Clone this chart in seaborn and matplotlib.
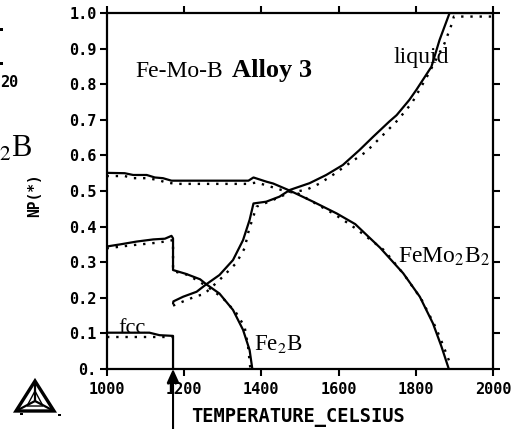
import matplotlib
matplotlib.use("Agg")
import matplotlib.pyplot as plt
import seaborn as sns
from matplotlib.lines import Line2D
from matplotlib.patches import Rectangle, Polygon

# ---------------- data ----------------
T_fcc = [1000, 1111, 1137, 1172, 1172]
NP_fcc = [0.102, 0.102, 0.095, 0.093, 0.0]

T_fe2b = [1000, 1035, 1078, 1121, 1151, 1168, 1172, 1172, 1206, 1242, 1258, 1292, 1327, 1353, 1370, 1377]
NP_fe2b = [0.344, 0.350, 0.358, 0.364, 0.366, 0.374, 0.367, 0.278, 0.267, 0.252, 0.238, 0.212, 0.166, 0.110, 0.053, 0.0]

T_liq = [1172, 1173, 1198, 1233, 1258, 1292, 1327, 1353, 1370, 1380, 1413, 1447, 1474, 1525, 1568,
         1611, 1654, 1689, 1731, 1750, 1783, 1801, 1840, 1861, 1887, 2000]
NP_liq = [0.184, 0.190, 0.203, 0.217, 0.238, 0.264, 0.306, 0.362, 0.419, 0.465, 0.470, 0.484, 0.503, 0.522, 0.545,
          0.573, 0.615, 0.652, 0.695, 0.713, 0.756, 0.784, 0.849, 0.924, 1.0, 1.0]

T_femo = [1000, 1047, 1069, 1104, 1125, 1146, 1168, 1367, 1380, 1414, 1431, 1474, 1534, 1595, 1643,
          1673, 1707, 1767, 1810, 1844, 1866, 1885]
NP_femo = [0.551, 0.550, 0.545, 0.545, 0.538, 0.536, 0.529, 0.529, 0.538, 0.526, 0.521, 0.501, 0.470, 0.437, 0.407,
           0.376, 0.341, 0.269, 0.203, 0.128, 0.063, 0.0]

# dotted (second calculation)
T_fcc_d = [1000, 1172]
NP_fcc_d = [0.091, 0.091]

T_fe2b_d = [1000, 1069, 1133, 1172, 1172, 1211, 1260, 1300, 1335, 1357, 1366, 1372]
NP_fe2b_d = [0.339, 0.348, 0.355, 0.362, 0.275, 0.264, 0.232, 0.200, 0.158, 0.119, 0.063, 0.0]

T_liq_d = [1172, 1185, 1233, 1252, 1292, 1335, 1357, 1368, 1388, 1431, 1474, 1516, 1551, 1585, 1628,
           1671, 1710, 1753, 1790, 1831, 1874, 1894, 1898, 2000]
NP_liq_d = [0.178, 0.184, 0.205, 0.210, 0.250, 0.297, 0.339, 0.390, 0.456, 0.475, 0.496, 0.503, 0.521, 0.545, 0.578,
            0.610, 0.652, 0.699, 0.748, 0.826, 0.915, 0.973, 0.990, 0.990]

T_femo_d = [1000, 1047, 1069, 1104, 1133, 1154, 1180, 1367, 1388, 1431, 1452, 1495, 1555, 1589, 1628,
            1650, 1715, 1732, 1770, 1814, 1852, 1869, 1891]
NP_femo_d = [0.542, 0.542, 0.536, 0.536, 0.531, 0.524, 0.520, 0.520, 0.524, 0.510, 0.503, 0.493, 0.456, 0.435, 0.407,
             0.390, 0.336, 0.315, 0.264, 0.196, 0.115, 0.070, 0.008]

x_ticks = [1000, 1200, 1400, 1600, 1800, 2000]
x_ticklabels = ["1000", "1200", "1400", "1600", "1800", "2000"]
y_ticks = [0.0, 0.1, 0.2, 0.3, 0.4, 0.5, 0.6, 0.7, 0.8, 0.9, 1.0]
y_ticklabels = ["0.", "0.1", "0.2", "0.3", "0.4", "0.5", "0.6", "0.7", "0.8", "0.9", "1.0"]

phase_labels = ["fcc", "Fe$_2$B", "liquid", "FeMo$_2$B$_2$"]
arrow_T = 1172

# ---------------- style ----------------
sns.set_style("ticks")
plt.rcParams["font.family"] = ["Liberation Serif", "DejaVu Serif"]
plt.rcParams["mathtext.fontset"] = "stix"
plt.rcParams["text.color"] = "black"
plt.rcParams["axes.labelcolor"] = "black"
plt.rcParams["xtick.color"] = "black"
plt.rcParams["ytick.color"] = "black"

W, H = 531, 429
fig = plt.figure(figsize=(W / 100, H / 100), dpi=100)
L, R, TOP, BOT = 106.5, 493.3, 13.0, 369.0
ax = fig.add_axes([L / W, 1 - BOT / H, (R - L) / W, (BOT - TOP) / H])


def fx(px):
    return px / W


def fy(py):
    return 1 - py / H


solid_kw = dict(color="black", lw=1.6, estimator=None, sort=False, legend=False, ax=ax)
for T, V in [(T_fcc, NP_fcc), (T_fe2b, NP_fe2b), (T_liq, NP_liq), (T_femo, NP_femo)]:
    sns.lineplot(x=T, y=V, **solid_kw)

for T, V in [(T_fcc_d, NP_fcc_d), (T_fe2b_d, NP_fe2b_d), (T_liq_d, NP_liq_d), (T_femo_d, NP_femo_d)]:
    n0 = len(ax.lines)
    sns.lineplot(x=T, y=V, color="black", lw=1.7, estimator=None, sort=False, legend=False, ax=ax)
    for ln in ax.lines[n0:]:
        ln.set_linestyle((0, (1, 2.9)))
        ln.set_dash_capstyle("butt")

ax.set_xlim(1000, 2000)
ax.set_ylim(0, 1)
ax.set_xticks(x_ticks)
ax.set_xticklabels(x_ticklabels)
ax.set_yticks(y_ticks)
ax.set_yticklabels(y_ticklabels)

mono = ["DejaVu Sans Mono", "DejaVu Sans"]
for lab in ax.get_xticklabels() + ax.get_yticklabels():
    lab.set_family(mono)
    lab.set_fontweight("bold")
    lab.set_fontsize(11)
    lab.set_color("black")

for sp in ax.spines.values():
    sp.set_visible(True)
    sp.set_linewidth(1.6)
    sp.set_color("black")

ax.tick_params(axis="both", which="both", direction="out", length=5, width=1.5,
               top=True, right=True, labeltop=False, labelright=False, colors="black")
ax.tick_params(axis="x", pad=4)
ax.tick_params(axis="y", pad=2)

ax.set_xlabel("TEMPERATURE_CELSIUS", family=mono, fontweight="bold", fontsize=13.5, color="black")
ax.xaxis.set_label_coords((298 - L) / (R - L), (BOT - 408) / (BOT - TOP))
ax.set_ylabel("NP(*)", family=mono, fontweight="bold", fontsize=10.5, color="black")
ax.yaxis.set_label_coords((42 - L) / (R - L), (BOT - 195) / (BOT - TOP))

# arrow at the invariant temperature
ax.annotate("", xy=(arrow_T, 0.0), xytext=(arrow_T, (BOT - H - 2) / (BOT - TOP)),
            xycoords="data", textcoords="data", annotation_clip=False,
            arrowprops=dict(arrowstyle="-|>,head_length=0.55,head_width=0.25", color="black",
                            lw=1.5, mutation_scale=15, shrinkA=0, shrinkB=0))

# text annotations
fig.text(fx(135), fy(77), "Fe-Mo-B", fontsize=17, va="baseline", ha="left")
fig.text(fx(232), fy(77), "Alloy 3", fontsize=19, fontweight="bold", va="baseline", ha="left")
fig.text(fx(118), fy(333), phase_labels[0], fontsize=16, va="baseline", ha="left")
fig.text(fx(254), fy(350), phase_labels[1], fontsize=16.5, va="baseline", ha="left")
fig.text(fx(393), fy(63), phase_labels[2], fontsize=17, va="baseline", ha="left")
fig.text(fx(398), fy(263), phase_labels[3], fontsize=17, va="baseline", ha="left")

# fragments at the left edge
fig.text(fx(-1), fy(157), "$_2$B", fontsize=22, va="baseline", ha="left")
fig.text(fx(0), fy(87), "20", family=mono, fontweight="bold", fontsize=11, va="baseline", ha="left")
for yy in (29, 63):
    fig.add_artist(Rectangle((fx(0), fy(yy + 1.5)), 3 / W, 3 / H, transform=fig.transFigure,
                             facecolor="black", edgecolor="none"))

# Thermo-Calc style logo
apex, bl, br, c = (35, 381), (16, 411), (54, 411), (35, 401)
tri = Polygon([(fx(apex[0]), fy(apex[1])), (fx(bl[0]), fy(bl[1])), (fx(br[0]), fy(br[1]))],
              closed=True, fill=False, edgecolor="black", lw=2.4, transform=fig.transFigure)
fig.add_artist(tri)
for p in (apex, bl, br):
    fig.add_artist(Line2D([fx(p[0]), fx(c[0])], [fy(p[1]), fy(c[1])], color="black", lw=1.6,
                          transform=fig.transFigure))
inner = Polygon([(fx(35), fy(391)), (fx(27), fy(406)), (fx(43), fy(406))], closed=True, fill=False,
                edgecolor="black", lw=1.0, transform=fig.transFigure)
fig.add_artist(inner)
for (px, py) in [(20, 414), (58, 415)]:
    fig.add_artist(Rectangle((fx(px), fy(py + 1)), 2.5 / W, 2.5 / H, transform=fig.transFigure,
                             facecolor="black", edgecolor="none"))

fig.savefig("out.png", dpi=100)
